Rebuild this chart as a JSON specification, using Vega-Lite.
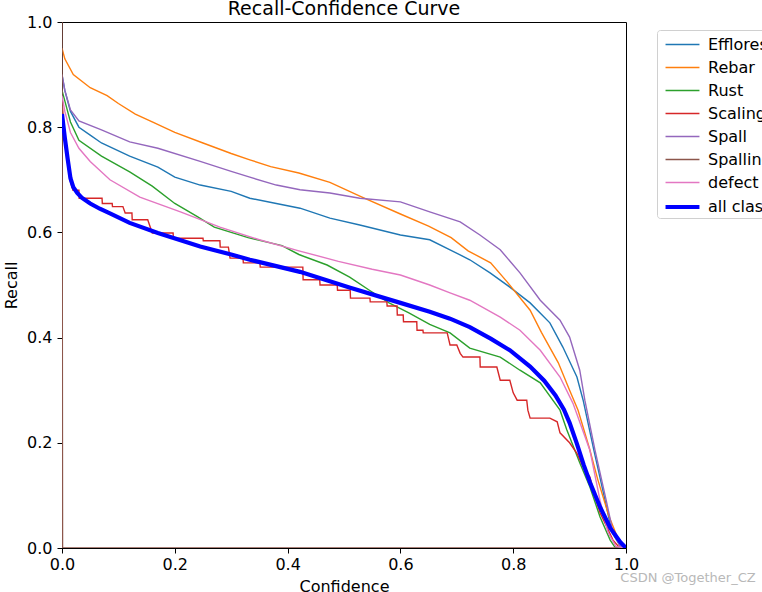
{
  "$schema": "https://vega.github.io/schema/vega-lite/v6.json",
  "description": "Recall-Confidence curve per defect class",
  "width": 564,
  "height": 526,
  "autosize": "none",
  "padding": {"left": 62, "top": 22, "right": 136, "bottom": 44},
  "background": "white",
  "title": {"text": "Recall-Confidence Curve", "font": "DejaVu Sans", "fontSize": 19, "fontWeight": "normal", "color": "black", "offset": -5},
  "config": {
    "view": {"stroke": "black", "strokeWidth": 1},
    "axis": {"domainColor": "black", "tickColor": "black", "labelColor": "black", "titleColor": "black", "labelFont": "DejaVu Sans", "titleFont": "DejaVu Sans", "labelFontSize": 16, "titleFontSize": 16, "titleFontWeight": "normal", "grid": false, "tickSize": 5, "labelFlush": false, "labelOverlap": false},
    "legend": {"labelFont": "DejaVu Sans", "labelFontSize": 16, "labelColor": "black", "strokeColor": "#d0d0d0", "fillColor": "white", "cornerRadius": 3, "padding": 2, "symbolType": "M-0.65,0H2.3", "symbolSize": 529, "rowPadding": 2, "labelOffset": 21, "labelLimit": 400}
  },
  "data": {"values": [
    {"cls": "Efflorescence", "conf": 0, "recall": 0.9},
    {"cls": "Efflorescence", "conf": 0.005, "recall": 0.87},
    {"cls": "Efflorescence", "conf": 0.015, "recall": 0.83},
    {"cls": "Efflorescence", "conf": 0.03, "recall": 0.8},
    {"cls": "Efflorescence", "conf": 0.05, "recall": 0.785},
    {"cls": "Efflorescence", "conf": 0.07, "recall": 0.77},
    {"cls": "Efflorescence", "conf": 0.12, "recall": 0.745},
    {"cls": "Efflorescence", "conf": 0.17, "recall": 0.724},
    {"cls": "Efflorescence", "conf": 0.2, "recall": 0.705},
    {"cls": "Efflorescence", "conf": 0.245, "recall": 0.69},
    {"cls": "Efflorescence", "conf": 0.3, "recall": 0.678},
    {"cls": "Efflorescence", "conf": 0.333, "recall": 0.665},
    {"cls": "Efflorescence", "conf": 0.38, "recall": 0.655},
    {"cls": "Efflorescence", "conf": 0.422, "recall": 0.646},
    {"cls": "Efflorescence", "conf": 0.475, "recall": 0.627},
    {"cls": "Efflorescence", "conf": 0.528, "recall": 0.614},
    {"cls": "Efflorescence", "conf": 0.6, "recall": 0.595},
    {"cls": "Efflorescence", "conf": 0.652, "recall": 0.586},
    {"cls": "Efflorescence", "conf": 0.688, "recall": 0.567},
    {"cls": "Efflorescence", "conf": 0.723, "recall": 0.548},
    {"cls": "Efflorescence", "conf": 0.759, "recall": 0.523},
    {"cls": "Efflorescence", "conf": 0.794, "recall": 0.496},
    {"cls": "Efflorescence", "conf": 0.83, "recall": 0.466},
    {"cls": "Efflorescence", "conf": 0.865, "recall": 0.428},
    {"cls": "Efflorescence", "conf": 0.888, "recall": 0.382},
    {"cls": "Efflorescence", "conf": 0.913, "recall": 0.325},
    {"cls": "Efflorescence", "conf": 0.924, "recall": 0.281},
    {"cls": "Efflorescence", "conf": 0.943, "recall": 0.186},
    {"cls": "Efflorescence", "conf": 0.963, "recall": 0.09},
    {"cls": "Efflorescence", "conf": 0.975, "recall": 0.03},
    {"cls": "Efflorescence", "conf": 0.99, "recall": 0.003},
    {"cls": "Efflorescence", "conf": 1, "recall": 0},

    {"cls": "Rebar", "conf": 0, "recall": 0.95},
    {"cls": "Rebar", "conf": 0.005, "recall": 0.93},
    {"cls": "Rebar", "conf": 0.02, "recall": 0.9},
    {"cls": "Rebar", "conf": 0.05, "recall": 0.875},
    {"cls": "Rebar", "conf": 0.08, "recall": 0.86},
    {"cls": "Rebar", "conf": 0.1, "recall": 0.845},
    {"cls": "Rebar", "conf": 0.13, "recall": 0.825},
    {"cls": "Rebar", "conf": 0.16, "recall": 0.81},
    {"cls": "Rebar", "conf": 0.2, "recall": 0.79},
    {"cls": "Rebar", "conf": 0.25, "recall": 0.77},
    {"cls": "Rebar", "conf": 0.3, "recall": 0.75},
    {"cls": "Rebar", "conf": 0.333, "recall": 0.738},
    {"cls": "Rebar", "conf": 0.37, "recall": 0.725},
    {"cls": "Rebar", "conf": 0.42, "recall": 0.713},
    {"cls": "Rebar", "conf": 0.475, "recall": 0.695},
    {"cls": "Rebar", "conf": 0.53, "recall": 0.668},
    {"cls": "Rebar", "conf": 0.6, "recall": 0.635},
    {"cls": "Rebar", "conf": 0.65, "recall": 0.612},
    {"cls": "Rebar", "conf": 0.69, "recall": 0.59},
    {"cls": "Rebar", "conf": 0.72, "recall": 0.565},
    {"cls": "Rebar", "conf": 0.76, "recall": 0.542},
    {"cls": "Rebar", "conf": 0.79, "recall": 0.505},
    {"cls": "Rebar", "conf": 0.83, "recall": 0.452},
    {"cls": "Rebar", "conf": 0.85, "recall": 0.41},
    {"cls": "Rebar", "conf": 0.88, "recall": 0.352},
    {"cls": "Rebar", "conf": 0.9, "recall": 0.3},
    {"cls": "Rebar", "conf": 0.915, "recall": 0.262},
    {"cls": "Rebar", "conf": 0.935, "recall": 0.19},
    {"cls": "Rebar", "conf": 0.95, "recall": 0.13},
    {"cls": "Rebar", "conf": 0.97, "recall": 0.06},
    {"cls": "Rebar", "conf": 0.985, "recall": 0.02},
    {"cls": "Rebar", "conf": 1, "recall": 0},

    {"cls": "Rust", "conf": 0, "recall": 0.87},
    {"cls": "Rust", "conf": 0.005, "recall": 0.85},
    {"cls": "Rust", "conf": 0.015, "recall": 0.81},
    {"cls": "Rust", "conf": 0.03, "recall": 0.775},
    {"cls": "Rust", "conf": 0.07, "recall": 0.745},
    {"cls": "Rust", "conf": 0.12, "recall": 0.715},
    {"cls": "Rust", "conf": 0.16, "recall": 0.688},
    {"cls": "Rust", "conf": 0.2, "recall": 0.655},
    {"cls": "Rust", "conf": 0.24, "recall": 0.63},
    {"cls": "Rust", "conf": 0.27, "recall": 0.61},
    {"cls": "Rust", "conf": 0.33, "recall": 0.59},
    {"cls": "Rust", "conf": 0.39, "recall": 0.575},
    {"cls": "Rust", "conf": 0.42, "recall": 0.558},
    {"cls": "Rust", "conf": 0.47, "recall": 0.538},
    {"cls": "Rust", "conf": 0.51, "recall": 0.515},
    {"cls": "Rust", "conf": 0.545, "recall": 0.49},
    {"cls": "Rust", "conf": 0.58, "recall": 0.466},
    {"cls": "Rust", "conf": 0.615, "recall": 0.447},
    {"cls": "Rust", "conf": 0.652, "recall": 0.425},
    {"cls": "Rust", "conf": 0.688, "recall": 0.409},
    {"cls": "Rust", "conf": 0.723, "recall": 0.38},
    {"cls": "Rust", "conf": 0.777, "recall": 0.363},
    {"cls": "Rust", "conf": 0.812, "recall": 0.338},
    {"cls": "Rust", "conf": 0.848, "recall": 0.314},
    {"cls": "Rust", "conf": 0.883, "recall": 0.262},
    {"cls": "Rust", "conf": 0.895, "recall": 0.225},
    {"cls": "Rust", "conf": 0.918, "recall": 0.162},
    {"cls": "Rust", "conf": 0.936, "recall": 0.116},
    {"cls": "Rust", "conf": 0.954, "recall": 0.059},
    {"cls": "Rust", "conf": 0.972, "recall": 0.015},
    {"cls": "Rust", "conf": 0.98, "recall": 0.002},
    {"cls": "Rust", "conf": 1, "recall": 0},

    {"cls": "Scaling", "conf": 0, "recall": 0.85},
    {"cls": "Scaling", "conf": 0.005, "recall": 0.78},
    {"cls": "Scaling", "conf": 0.014, "recall": 0.7},
    {"cls": "Scaling", "conf": 0.0195, "recall": 0.68},
    {"cls": "Scaling", "conf": 0.03, "recall": 0.68},
    {"cls": "Scaling", "conf": 0.0305, "recall": 0.665},
    {"cls": "Scaling", "conf": 0.071, "recall": 0.665},
    {"cls": "Scaling", "conf": 0.0715, "recall": 0.655},
    {"cls": "Scaling", "conf": 0.089, "recall": 0.655},
    {"cls": "Scaling", "conf": 0.0895, "recall": 0.649},
    {"cls": "Scaling", "conf": 0.108, "recall": 0.649},
    {"cls": "Scaling", "conf": 0.112, "recall": 0.637},
    {"cls": "Scaling", "conf": 0.124, "recall": 0.637},
    {"cls": "Scaling", "conf": 0.1245, "recall": 0.624},
    {"cls": "Scaling", "conf": 0.152, "recall": 0.624},
    {"cls": "Scaling", "conf": 0.16, "recall": 0.599},
    {"cls": "Scaling", "conf": 0.197, "recall": 0.599},
    {"cls": "Scaling", "conf": 0.1975, "recall": 0.589},
    {"cls": "Scaling", "conf": 0.25, "recall": 0.589},
    {"cls": "Scaling", "conf": 0.2505, "recall": 0.584},
    {"cls": "Scaling", "conf": 0.28, "recall": 0.584},
    {"cls": "Scaling", "conf": 0.2805, "recall": 0.572},
    {"cls": "Scaling", "conf": 0.295, "recall": 0.572},
    {"cls": "Scaling", "conf": 0.298, "recall": 0.551},
    {"cls": "Scaling", "conf": 0.321, "recall": 0.551},
    {"cls": "Scaling", "conf": 0.3215, "recall": 0.542},
    {"cls": "Scaling", "conf": 0.351, "recall": 0.542},
    {"cls": "Scaling", "conf": 0.3515, "recall": 0.534},
    {"cls": "Scaling", "conf": 0.427, "recall": 0.534},
    {"cls": "Scaling", "conf": 0.4275, "recall": 0.51},
    {"cls": "Scaling", "conf": 0.457, "recall": 0.51},
    {"cls": "Scaling", "conf": 0.4575, "recall": 0.5},
    {"cls": "Scaling", "conf": 0.488, "recall": 0.5},
    {"cls": "Scaling", "conf": 0.4885, "recall": 0.49},
    {"cls": "Scaling", "conf": 0.511, "recall": 0.49},
    {"cls": "Scaling", "conf": 0.5115, "recall": 0.475},
    {"cls": "Scaling", "conf": 0.546, "recall": 0.475},
    {"cls": "Scaling", "conf": 0.5465, "recall": 0.468},
    {"cls": "Scaling", "conf": 0.576, "recall": 0.468},
    {"cls": "Scaling", "conf": 0.5765, "recall": 0.46},
    {"cls": "Scaling", "conf": 0.594, "recall": 0.46},
    {"cls": "Scaling", "conf": 0.5945, "recall": 0.443},
    {"cls": "Scaling", "conf": 0.605, "recall": 0.443},
    {"cls": "Scaling", "conf": 0.6055, "recall": 0.43},
    {"cls": "Scaling", "conf": 0.629, "recall": 0.43},
    {"cls": "Scaling", "conf": 0.6295, "recall": 0.414},
    {"cls": "Scaling", "conf": 0.64, "recall": 0.414},
    {"cls": "Scaling", "conf": 0.6405, "recall": 0.409},
    {"cls": "Scaling", "conf": 0.683, "recall": 0.409},
    {"cls": "Scaling", "conf": 0.688, "recall": 0.386},
    {"cls": "Scaling", "conf": 0.7, "recall": 0.386},
    {"cls": "Scaling", "conf": 0.706, "recall": 0.37},
    {"cls": "Scaling", "conf": 0.711, "recall": 0.363},
    {"cls": "Scaling", "conf": 0.741, "recall": 0.363},
    {"cls": "Scaling", "conf": 0.7415, "recall": 0.344},
    {"cls": "Scaling", "conf": 0.771, "recall": 0.344},
    {"cls": "Scaling", "conf": 0.777, "recall": 0.319},
    {"cls": "Scaling", "conf": 0.794, "recall": 0.319},
    {"cls": "Scaling", "conf": 0.8, "recall": 0.295},
    {"cls": "Scaling", "conf": 0.807, "recall": 0.281},
    {"cls": "Scaling", "conf": 0.824, "recall": 0.281},
    {"cls": "Scaling", "conf": 0.826, "recall": 0.262},
    {"cls": "Scaling", "conf": 0.83, "recall": 0.247},
    {"cls": "Scaling", "conf": 0.865, "recall": 0.247},
    {"cls": "Scaling", "conf": 0.878, "recall": 0.24},
    {"cls": "Scaling", "conf": 0.883, "recall": 0.219},
    {"cls": "Scaling", "conf": 0.9, "recall": 0.2},
    {"cls": "Scaling", "conf": 0.913, "recall": 0.18},
    {"cls": "Scaling", "conf": 0.924, "recall": 0.154},
    {"cls": "Scaling", "conf": 0.936, "recall": 0.135},
    {"cls": "Scaling", "conf": 0.945, "recall": 0.097},
    {"cls": "Scaling", "conf": 0.954, "recall": 0.067},
    {"cls": "Scaling", "conf": 0.966, "recall": 0.04},
    {"cls": "Scaling", "conf": 0.977, "recall": 0.015},
    {"cls": "Scaling", "conf": 0.989, "recall": 0},
    {"cls": "Scaling", "conf": 1, "recall": 0},

    {"cls": "Spall", "conf": 0, "recall": 0.9},
    {"cls": "Spall", "conf": 0.005, "recall": 0.87},
    {"cls": "Spall", "conf": 0.015, "recall": 0.833},
    {"cls": "Spall", "conf": 0.03, "recall": 0.812},
    {"cls": "Spall", "conf": 0.07, "recall": 0.795},
    {"cls": "Spall", "conf": 0.12, "recall": 0.772},
    {"cls": "Spall", "conf": 0.17, "recall": 0.76},
    {"cls": "Spall", "conf": 0.245, "recall": 0.735},
    {"cls": "Spall", "conf": 0.3, "recall": 0.716},
    {"cls": "Spall", "conf": 0.333, "recall": 0.705},
    {"cls": "Spall", "conf": 0.38, "recall": 0.69},
    {"cls": "Spall", "conf": 0.422, "recall": 0.681},
    {"cls": "Spall", "conf": 0.475, "recall": 0.675},
    {"cls": "Spall", "conf": 0.528, "recall": 0.665},
    {"cls": "Spall", "conf": 0.6, "recall": 0.658},
    {"cls": "Spall", "conf": 0.652, "recall": 0.639},
    {"cls": "Spall", "conf": 0.706, "recall": 0.62},
    {"cls": "Spall", "conf": 0.741, "recall": 0.595},
    {"cls": "Spall", "conf": 0.777, "recall": 0.567},
    {"cls": "Spall", "conf": 0.812, "recall": 0.523},
    {"cls": "Spall", "conf": 0.848, "recall": 0.471},
    {"cls": "Spall", "conf": 0.883, "recall": 0.433},
    {"cls": "Spall", "conf": 0.9, "recall": 0.401},
    {"cls": "Spall", "conf": 0.918, "recall": 0.338},
    {"cls": "Spall", "conf": 0.927, "recall": 0.281},
    {"cls": "Spall", "conf": 0.945, "recall": 0.186},
    {"cls": "Spall", "conf": 0.965, "recall": 0.09},
    {"cls": "Spall", "conf": 0.977, "recall": 0.03},
    {"cls": "Spall", "conf": 0.99, "recall": 0.003},
    {"cls": "Spall", "conf": 1, "recall": 0},

    {"cls": "Spalling", "conf": 0, "recall": 1},
    {"cls": "Spalling", "conf": 0.001, "recall": 0},
    {"cls": "Spalling", "conf": 1, "recall": 0},

    {"cls": "defect", "conf": 0, "recall": 0.86},
    {"cls": "defect", "conf": 0.005, "recall": 0.83},
    {"cls": "defect", "conf": 0.015, "recall": 0.79},
    {"cls": "defect", "conf": 0.03, "recall": 0.76},
    {"cls": "defect", "conf": 0.05, "recall": 0.735},
    {"cls": "defect", "conf": 0.085, "recall": 0.7},
    {"cls": "defect", "conf": 0.138, "recall": 0.667},
    {"cls": "defect", "conf": 0.21, "recall": 0.639},
    {"cls": "defect", "conf": 0.28, "recall": 0.61},
    {"cls": "defect", "conf": 0.35, "recall": 0.586},
    {"cls": "defect", "conf": 0.42, "recall": 0.565},
    {"cls": "defect", "conf": 0.49, "recall": 0.545},
    {"cls": "defect", "conf": 0.55, "recall": 0.53},
    {"cls": "defect", "conf": 0.6, "recall": 0.519},
    {"cls": "defect", "conf": 0.652, "recall": 0.5},
    {"cls": "defect", "conf": 0.688, "recall": 0.485},
    {"cls": "defect", "conf": 0.723, "recall": 0.471},
    {"cls": "defect", "conf": 0.777, "recall": 0.439},
    {"cls": "defect", "conf": 0.812, "recall": 0.414},
    {"cls": "defect", "conf": 0.848, "recall": 0.376},
    {"cls": "defect", "conf": 0.883, "recall": 0.325},
    {"cls": "defect", "conf": 0.906, "recall": 0.275},
    {"cls": "defect", "conf": 0.936, "recall": 0.186},
    {"cls": "defect", "conf": 0.954, "recall": 0.09},
    {"cls": "defect", "conf": 0.968, "recall": 0.03},
    {"cls": "defect", "conf": 0.982, "recall": 0.003},
    {"cls": "defect", "conf": 1, "recall": 0},

    {"cls": "all classes 0.83 at 0.000", "conf": 0, "recall": 0.825},
    {"cls": "all classes 0.83 at 0.000", "conf": 0.005, "recall": 0.78},
    {"cls": "all classes 0.83 at 0.000", "conf": 0.01, "recall": 0.74},
    {"cls": "all classes 0.83 at 0.000", "conf": 0.015, "recall": 0.703},
    {"cls": "all classes 0.83 at 0.000", "conf": 0.02, "recall": 0.686},
    {"cls": "all classes 0.83 at 0.000", "conf": 0.027, "recall": 0.675},
    {"cls": "all classes 0.83 at 0.000", "conf": 0.035, "recall": 0.666},
    {"cls": "all classes 0.83 at 0.000", "conf": 0.05, "recall": 0.655},
    {"cls": "all classes 0.83 at 0.000", "conf": 0.067, "recall": 0.645},
    {"cls": "all classes 0.83 at 0.000", "conf": 0.085, "recall": 0.636},
    {"cls": "all classes 0.83 at 0.000", "conf": 0.12, "recall": 0.618},
    {"cls": "all classes 0.83 at 0.000", "conf": 0.17, "recall": 0.599},
    {"cls": "all classes 0.83 at 0.000", "conf": 0.245, "recall": 0.573},
    {"cls": "all classes 0.83 at 0.000", "conf": 0.3, "recall": 0.558},
    {"cls": "all classes 0.83 at 0.000", "conf": 0.333, "recall": 0.548},
    {"cls": "all classes 0.83 at 0.000", "conf": 0.422, "recall": 0.525},
    {"cls": "all classes 0.83 at 0.000", "conf": 0.511, "recall": 0.495},
    {"cls": "all classes 0.83 at 0.000", "conf": 0.6, "recall": 0.466},
    {"cls": "all classes 0.83 at 0.000", "conf": 0.652, "recall": 0.449},
    {"cls": "all classes 0.83 at 0.000", "conf": 0.688, "recall": 0.436},
    {"cls": "all classes 0.83 at 0.000", "conf": 0.723, "recall": 0.42},
    {"cls": "all classes 0.83 at 0.000", "conf": 0.76, "recall": 0.398},
    {"cls": "all classes 0.83 at 0.000", "conf": 0.794, "recall": 0.376},
    {"cls": "all classes 0.83 at 0.000", "conf": 0.83, "recall": 0.345},
    {"cls": "all classes 0.83 at 0.000", "conf": 0.855, "recall": 0.318},
    {"cls": "all classes 0.83 at 0.000", "conf": 0.875, "recall": 0.29},
    {"cls": "all classes 0.83 at 0.000", "conf": 0.89, "recall": 0.263},
    {"cls": "all classes 0.83 at 0.000", "conf": 0.9, "recall": 0.238},
    {"cls": "all classes 0.83 at 0.000", "conf": 0.913, "recall": 0.198},
    {"cls": "all classes 0.83 at 0.000", "conf": 0.925, "recall": 0.158},
    {"cls": "all classes 0.83 at 0.000", "conf": 0.936, "recall": 0.125},
    {"cls": "all classes 0.83 at 0.000", "conf": 0.954, "recall": 0.078},
    {"cls": "all classes 0.83 at 0.000", "conf": 0.972, "recall": 0.038},
    {"cls": "all classes 0.83 at 0.000", "conf": 0.99, "recall": 0.011},
    {"cls": "all classes 0.83 at 0.000", "conf": 1, "recall": 0}
  ]},
  "layer": [
    {
      "mark": {"type": "line", "clip": true},
      "encoding": {
        "x": {"field": "conf", "type": "quantitative", "title": "Confidence", "scale": {"domain": [0, 1], "nice": false}, "axis": {"values": [0, 0.2, 0.4, 0.6, 0.8, 1], "format": ".1f", "labelPadding": 3, "titlePadding": 6}},
        "y": {"field": "recall", "type": "quantitative", "title": "Recall", "scale": {"domain": [0, 1], "nice": false}, "axis": {"values": [0, 0.2, 0.4, 0.6, 0.8, 1], "format": ".1f", "labelPadding": 5, "titlePadding": 7}},
        "color": {"field": "cls", "type": "nominal", "title": null, "scale": {
          "domain": ["Efflorescence", "Rebar", "Rust", "Scaling", "Spall", "Spalling", "defect", "all classes 0.83 at 0.000"],
          "range": ["#1f77b4", "#ff7f0e", "#2ca02c", "#d62728", "#9467bd", "#8c564b", "#e377c2", "#0000ff"]},
          "legend": {"orient": "none", "legendX": 595, "legendY": 8}},
        "strokeWidth": {"field": "cls", "type": "nominal", "title": null, "scale": {"type": "ordinal",
          "domain": ["Efflorescence", "Rebar", "Rust", "Scaling", "Spall", "Spalling", "defect", "all classes 0.83 at 0.000"],
          "range": [1.4, 1.4, 1.4, 1.4, 1.4, 1.4, 1.4, 4.2]},
          "legend": {"orient": "none", "legendX": 595, "legendY": 8}}
      }
    },
    {
      "data": {"values": [{"note": "CSDN @Together_CZ"}]},
      "mark": {"type": "text", "align": "left", "baseline": "middle", "font": "DejaVu Sans", "fontSize": 13, "color": "#b8b8b8"},
      "encoding": {
        "x": {"datum": 0.99},
        "y": {"datum": -0.057},
        "text": {"field": "note"}
      }
    }
  ]
}
